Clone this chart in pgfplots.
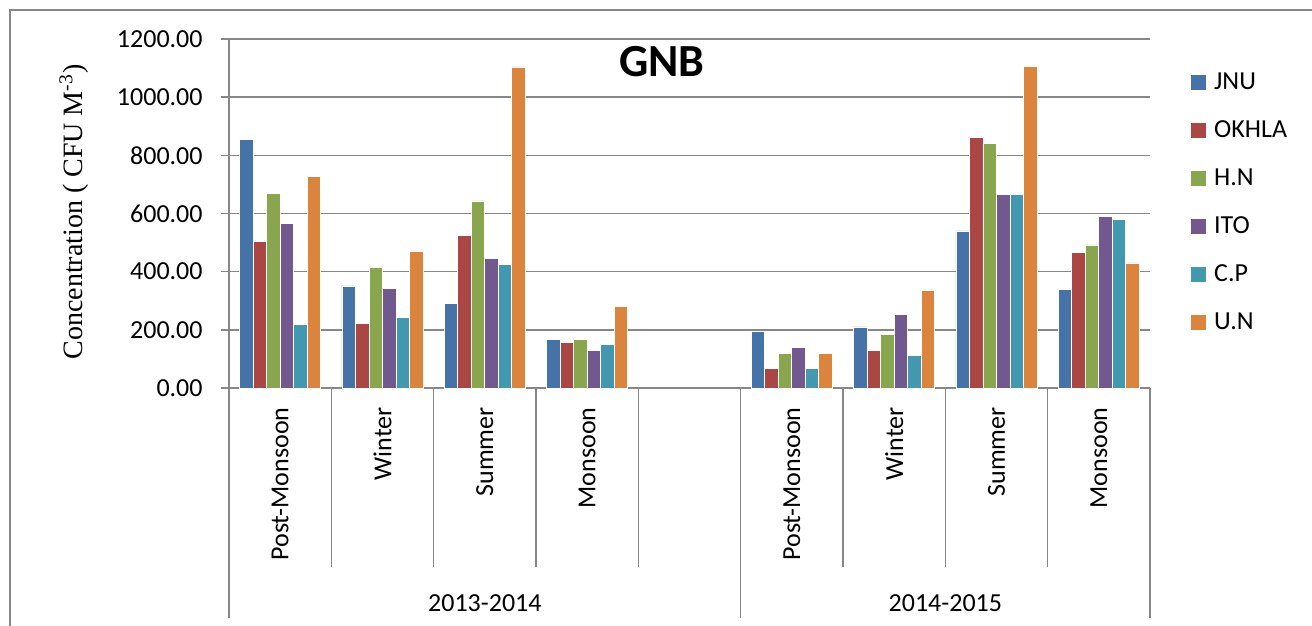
\documentclass[border=0pt]{standalone}
\usepackage{fontspec}
\setmainfont{Carlito}
\newfontfamily\timesfont{Liberation Serif}
\usepackage{pgfplots}
\pgfplotsset{compat=1.18}

\definecolor{cJNU}{HTML}{4572A7}
\definecolor{cOKH}{HTML}{AA4643}
\definecolor{cHN}{HTML}{89A54E}
\definecolor{cITO}{HTML}{71588F}
\definecolor{cCP}{HTML}{4198AF}
\definecolor{cUN}{HTML}{DB843D}
\definecolor{gridgray}{HTML}{878787}
\newcommand\ticksz{\fontsize{13}{15}\selectfont}

\begin{document}
\begin{tikzpicture}
\useasboundingbox (0pt,0pt) rectangle (656pt,313pt);
% outer chart frame
\draw[gridgray, line width=0.8pt] (5pt,-10pt) -- (5pt,308pt) -- (670pt,308pt);

\begin{axis}[
    at={(114.5pt,119pt)}, anchor=south west,
    width=460.5pt, height=174.5pt, scale only axis,
    xmin=-0.5, xmax=8.5, ymin=0, ymax=1200,
    ytick={0,200,...,1200},
    xtick=\empty,
    /pgf/number format/assume math mode=true,
    yticklabel style={/pgf/number format/fixed, /pgf/number format/fixed zerofill,
        /pgf/number format/precision=2, /pgf/number format/1000 sep={},
        font=\ticksz, inner sep=0pt, xshift=-9pt},
    axis x line*=bottom, axis y line*=left,
    axis line style={draw=gridgray, line width=0.75pt, -},
    tick align=outside, major tick length=4pt,
    ytick style={draw=gridgray, line width=0.75pt},
    ymajorgrids, grid style={gridgray, line width=0.75pt},
    ybar=0pt, bar width=6.75pt,
    clip=false,
    legend style={at={(1.0434,0.9138)}, anchor=north west, draw=none, fill=none,
        inner sep=0pt, row sep=11pt, column sep=3.5pt, font=\ticksz,
        nodes={inner sep=0pt, text height=10pt, text depth=3pt}},
    legend cell align=left,
    legend image code/.code={\fill[#1] (0pt,-4pt) rectangle (8pt,4pt);},
]
\addplot[fill=cJNU, draw=white, line width=0.4pt] coordinates
    {(0,856) (1,351) (2,291) (3,166) (5,193) (6,210) (7,540) (8,338)};
\addlegendentry{JNU}
\addplot[fill=cOKH, draw=white, line width=0.4pt] coordinates
    {(0,505) (1,223) (2,523) (3,158) (5,68) (6,128) (7,863) (8,465)};
\addlegendentry{OKHLA}
\addplot[fill=cHN, draw=white, line width=0.4pt] coordinates
    {(0,669) (1,416) (2,643) (3,168) (5,120) (6,183) (7,841) (8,492)};
\addlegendentry{H.N}
\addplot[fill=cITO, draw=white, line width=0.4pt] coordinates
    {(0,565) (1,343) (2,444) (3,130) (5,138) (6,254) (7,664) (8,591)};
\addlegendentry{ITO}
\addplot[fill=cCP, draw=white, line width=0.4pt] coordinates
    {(0,219) (1,242) (2,425) (3,151) (5,68) (6,111) (7,664) (8,578)};
\addlegendentry{C.P}
\addplot[fill=cUN, draw=white, line width=0.4pt] coordinates
    {(0,728) (1,471) (2,1104) (3,279) (5,120) (6,334) (7,1106) (8,430)};
\addlegendentry{U.N}

% category separators
\draw[gridgray, line width=0.75pt] (axis cs:-0.5,0) -- ++(0pt,-115pt);
\draw[gridgray, line width=0.75pt] (axis cs:0.5,0) -- ++(0pt,-89.5pt);
\draw[gridgray, line width=0.75pt] (axis cs:1.5,0) -- ++(0pt,-89.5pt);
\draw[gridgray, line width=0.75pt] (axis cs:2.5,0) -- ++(0pt,-89.5pt);
\draw[gridgray, line width=0.75pt] (axis cs:3.5,0) -- ++(0pt,-89.5pt);
\draw[gridgray, line width=0.75pt] (axis cs:4.5,0) -- ++(0pt,-115pt);
\draw[gridgray, line width=0.75pt] (axis cs:5.5,0) -- ++(0pt,-89.5pt);
\draw[gridgray, line width=0.75pt] (axis cs:6.5,0) -- ++(0pt,-89.5pt);
\draw[gridgray, line width=0.75pt] (axis cs:7.5,0) -- ++(0pt,-89.5pt);
\draw[gridgray, line width=0.75pt] (axis cs:8.5,0) -- ++(0pt,-115pt);

% season labels
\node[yshift=-9.5pt, rotate=90, anchor=east, inner sep=0pt, font=\ticksz] at (axis cs:0,0) {Post-Monsoon};
\node[yshift=-9.5pt, rotate=90, anchor=east, inner sep=0pt, font=\ticksz] at (axis cs:1,0) {Winter};
\node[yshift=-9.5pt, rotate=90, anchor=east, inner sep=0pt, font=\ticksz] at (axis cs:2,0) {Summer};
\node[yshift=-9.5pt, rotate=90, anchor=east, inner sep=0pt, font=\ticksz] at (axis cs:3,0) {Monsoon};
\node[yshift=-9.5pt, rotate=90, anchor=east, inner sep=0pt, font=\ticksz] at (axis cs:5,0) {Post-Monsoon};
\node[yshift=-9.5pt, rotate=90, anchor=east, inner sep=0pt, font=\ticksz] at (axis cs:6,0) {Winter};
\node[yshift=-9.5pt, rotate=90, anchor=east, inner sep=0pt, font=\ticksz] at (axis cs:7,0) {Summer};
\node[yshift=-9.5pt, rotate=90, anchor=east, inner sep=0pt, font=\ticksz] at (axis cs:8,0) {Monsoon};
% year labels
\node[yshift=-107.5pt, font=\ticksz] at (axis cs:2,0) {2013-2014};
\node[yshift=-107.5pt, font=\ticksz] at (axis cs:6.5,0) {2014-2015};
\end{axis}

% title and y label
\node[anchor=base, font=\fontsize{23}{27}\selectfont\bfseries, inner sep=0pt] at (331pt,274.6pt) {GNB};
\node[rotate=90, font=\timesfont\fontsize{14}{16}\selectfont] at (37pt,207pt)
    {Concentration ( CFU M\textsuperscript{-3})};
\end{tikzpicture}
\end{document}
